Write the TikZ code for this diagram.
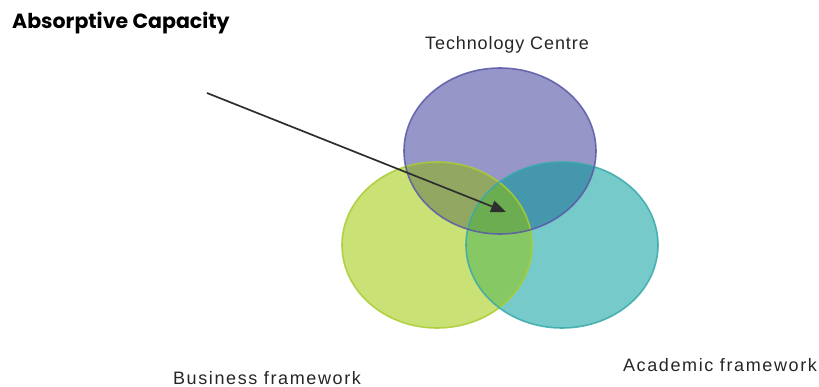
\documentclass[tikz,border=0pt]{standalone}
\usepackage{fontspec}
\setmainfont{Liberation Sans}
\newfontfamily\titlefont{Poppins}[UprightFont=* Bold]
\newfontfamily\labelfontA{Liberation Sans}[LetterSpace=5]
\newfontfamily\labelfontB{Liberation Sans}[LetterSpace=9]
\usetikzlibrary{arrows.meta}
\definecolor{purfill}{HTML}{9696C8}
\definecolor{purline}{HTML}{5A58A8}
\definecolor{grnfill}{HTML}{C9E175}
\definecolor{grnline}{HTML}{A9CD33}
\definecolor{tealfill}{HTML}{76CACA}
\definecolor{tealline}{HTML}{38AAAA}
\definecolor{pgfill}{HTML}{92A862}
\definecolor{ptfill}{HTML}{4597AE}
\definecolor{gtfill}{HTML}{86C863}
\definecolor{pgtfill}{HTML}{6BAD50}
\definecolor{arrowcol}{HTML}{2E2E2E}
\tikzset{
  lbl/.style={font=\labelfontB\fontsize{18}{21}\selectfont, text=black!85, inner sep=0pt},
  lbltech/.style={font=\labelfontA\fontsize{18}{21}\selectfont, text=black!85, inner sep=0pt},
  ttl/.style={font=\titlefont\fontsize{20.5}{24}\selectfont, text=black, inner sep=0pt},
  ring/.style={line width=1.6pt, draw opacity=0.85},
  pointer/.style={draw=arrowcol, line width=1.7pt, -{Triangle[length=15pt,width=12pt]}}
}
\begin{document}
\begin{tikzpicture}[x=1pt,y=-1pt]
\useasboundingbox (0,0) rectangle (819,387);
% centres
\coordinate (pc) at (500,151);
\coordinate (gc) at (437,245);
\coordinate (tc) at (562,245);
% base fills
\fill[purfill] (pc) ellipse [x radius=96, y radius=83];
\fill[grnfill] (gc) ellipse [x radius=95, y radius=83];
\fill[tealfill] (tc) ellipse [x radius=96, y radius=83];
% pairwise overlaps
\begin{scope}
  \clip (pc) ellipse [x radius=96, y radius=83];
  \fill[pgfill] (gc) ellipse [x radius=95, y radius=83];
  \fill[ptfill] (tc) ellipse [x radius=96, y radius=83];
\end{scope}
\begin{scope}
  \clip (gc) ellipse [x radius=95, y radius=83];
  \fill[gtfill] (tc) ellipse [x radius=96, y radius=83];
\end{scope}
\begin{scope}
  \clip (pc) ellipse [x radius=96, y radius=83];
  \clip (gc) ellipse [x radius=95, y radius=83];
  \fill[pgtfill] (tc) ellipse [x radius=96, y radius=83];
\end{scope}
% outlines
\draw[ring, grnline] (gc) ellipse [x radius=95, y radius=83];
\draw[ring, tealline] (tc) ellipse [x radius=96, y radius=83];
\draw[ring, purline] (pc) ellipse [x radius=96, y radius=83];
% arrow
\coordinate (arrowstart) at (207,93);
\coordinate (arrowend) at (506,212);
\draw[pointer] (arrowstart) -- (arrowend);
% labels
\node[ttl, anchor=base west] (title) at (12,29) {Absorptive Capacity};
\node[lbltech, anchor=base] (tech) at (507,50) {Technology Centre};
\node[lbl, anchor=base] (bus) at (267,384) {Business framework};
\node[lbl, anchor=base] (acad) at (720,371) {Academic framework};
\end{tikzpicture}
\end{document}
